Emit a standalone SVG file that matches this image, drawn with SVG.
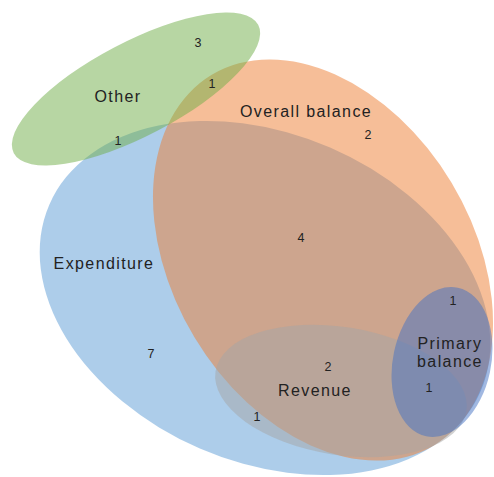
<svg xmlns="http://www.w3.org/2000/svg" width="494" height="477" viewBox="0 0 494 477">
<style>
.set{stroke:none}
.lbl{font-family:"Liberation Sans",Arial,sans-serif;font-size:16px;letter-spacing:1.4px;fill:#222222;text-anchor:middle}
.num{font-family:"Liberation Sans",Arial,sans-serif;font-size:12.5px;fill:#222222;text-anchor:middle}
</style>
<rect width="494" height="477" fill="#ffffff"/>
<g id="expenditure"><ellipse class="set" cx="265" cy="298" rx="235" ry="164" transform="rotate(23.4 265 298)" fill="#5B9BD5" fill-opacity="0.5"/></g>
<g id="overall-balance"><ellipse class="set" cx="323" cy="260" rx="216" ry="150" transform="rotate(59 323 260)" fill="#ED7D31" fill-opacity="0.5"/></g>
<g id="other"><ellipse class="set" cx="136" cy="89" rx="138" ry="47" transform="rotate(-27.7 136 89)" fill="#70AD47" fill-opacity="0.5"/></g>
<g id="revenue"><ellipse class="set" cx="341" cy="391" rx="127" ry="64" transform="rotate(9 341 391)" fill="#A5A5A5" fill-opacity="0.5"/></g>
<g id="primary-balance"><ellipse class="set" cx="442" cy="362" rx="49" ry="76" transform="rotate(12 442 362)" fill="#4472C4" fill-opacity="0.5"/></g>
<g id="labels">
<text class="lbl" x="118" y="102">Other</text>
<text class="lbl" x="306" y="117">Overall balance</text>
<text class="lbl" x="104" y="269">Expenditure</text>
<text class="lbl" x="315" y="396">Revenue</text>
<text class="lbl" x="450" y="349">Primary</text>
<text class="lbl" x="450" y="367">balance</text>
</g>
<g id="counts">
<text class="num" x="198" y="47">3</text>
<text class="num" x="212" y="88">1</text>
<text class="num" x="118" y="145">1</text>
<text class="num" x="368" y="139">2</text>
<text class="num" x="301" y="242">4</text>
<text class="num" x="151" y="358">7</text>
<text class="num" x="328" y="371">2</text>
<text class="num" x="257" y="421">1</text>
<text class="num" x="453" y="305">1</text>
<text class="num" x="429" y="392">1</text>
</g>
</svg>
